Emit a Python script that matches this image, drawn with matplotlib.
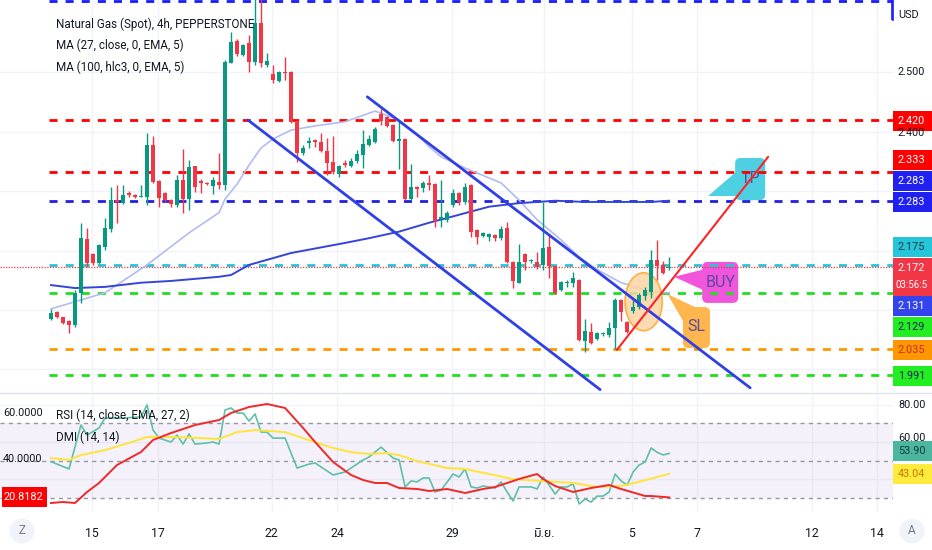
import matplotlib.pyplot as plt
import matplotlib.patches as mpatches
import numpy as np

# ---- data (4h candles, Natural Gas Spot) ----
opens = [2.085, 2.097, 2.088, 2.082, 2.075, 2.129, 2.220, 2.194, 2.179, 2.206,
         2.237, 2.285, 2.280, 2.297, 2.294, 2.291, 2.290, 2.378, 2.317, 2.297,
         2.285, 2.277, 2.319, 2.287, 2.343, 2.317, 2.314, 2.309, 2.316, 2.311,
         2.516, 2.553, 2.529, 2.550, 2.518, 2.583, 2.513, 2.497, 2.486, 2.501,
         2.501, 2.418, 2.364, 2.381, 2.386, 2.383, 2.368, 2.349, 2.329, 2.348,
         2.343, 2.351, 2.361, 2.378, 2.383, 2.430, 2.425, 2.412, 2.385, 2.388,
         2.287, 2.307, 2.306, 2.314, 2.312, 2.253, 2.252, 2.277, 2.297, 2.282,
         2.311, 2.235, 2.225, 2.223, 2.227, 2.221, 2.238, 2.181, 2.146, 2.194,
         2.182, 2.181, 2.176, 2.206, 2.174, 2.134, 2.146, 2.146, 2.151, 2.048,
         2.063, 2.051, 2.060, 2.058, 2.070, 2.117, 2.080, 2.098, 2.105, 2.124,
         2.131, 2.184, 2.176, 2.171]
highs = [2.102, 2.098, 2.089, 2.083, 2.134, 2.247, 2.238, 2.196, 2.212, 2.255,
         2.307, 2.311, 2.311, 2.301, 2.296, 2.311, 2.398, 2.393, 2.319, 2.299,
         2.287, 2.328, 2.371, 2.353, 2.343, 2.321, 2.316, 2.324, 2.365, 2.521,
         2.568, 2.556, 2.548, 2.563, 2.625, 2.625, 2.533, 2.513, 2.502, 2.526,
         2.503, 2.420, 2.378, 2.391, 2.388, 2.398, 2.390, 2.393, 2.344, 2.353,
         2.356, 2.370, 2.403, 2.395, 2.408, 2.439, 2.427, 2.413, 2.420, 2.390,
         2.346, 2.308, 2.317, 2.328, 2.314, 2.319, 2.267, 2.304, 2.299, 2.314,
         2.312, 2.236, 2.232, 2.230, 2.228, 2.242, 2.248, 2.182, 2.211, 2.196,
         2.186, 2.198, 2.282, 2.226, 2.174, 2.149, 2.151, 2.164, 2.153, 2.085,
         2.078, 2.063, 2.063, 2.080, 2.120, 2.119, 2.082, 2.120, 2.129, 2.139,
         2.201, 2.218, 2.183, 2.189]
lows = [2.083, 2.087, 2.076, 2.061, 2.072, 2.112, 2.172, 2.176, 2.177, 2.201,
        2.232, 2.247, 2.279, 2.290, 2.289, 2.290, 2.277, 2.314, 2.274, 2.282,
        2.274, 2.274, 2.264, 2.269, 2.299, 2.297, 2.310, 2.296, 2.304, 2.302,
        2.516, 2.528, 2.527, 2.501, 2.513, 2.509, 2.509, 2.482, 2.484, 2.487,
        2.415, 2.349, 2.361, 2.373, 2.375, 2.366, 2.328, 2.329, 2.324, 2.341,
        2.341, 2.348, 2.339, 2.376, 2.381, 2.412, 2.408, 2.383, 2.338, 2.285,
        2.286, 2.290, 2.299, 2.302, 2.240, 2.240, 2.248, 2.274, 2.277, 2.279,
        2.223, 2.211, 2.223, 2.216, 2.216, 2.218, 2.179, 2.137, 2.145, 2.168,
        2.179, 2.169, 2.168, 2.154, 2.127, 2.132, 2.139, 2.139, 2.048, 2.030,
        2.043, 2.050, 2.056, 2.055, 2.034, 2.082, 2.061, 2.095, 2.102, 2.117,
        2.120, 2.151, 2.161, 2.168]
closes = [2.095, 2.088, 2.078, 2.075, 2.129, 2.221, 2.179, 2.179, 2.210, 2.238,
          2.285, 2.282, 2.294, 2.294, 2.290, 2.292, 2.378, 2.316, 2.289, 2.285,
          2.279, 2.319, 2.287, 2.341, 2.307, 2.314, 2.312, 2.319, 2.311, 2.518,
          2.551, 2.531, 2.546, 2.518, 2.583, 2.516, 2.519, 2.487, 2.501, 2.499,
          2.417, 2.364, 2.373, 2.385, 2.383, 2.368, 2.348, 2.333, 2.343, 2.344,
          2.351, 2.363, 2.380, 2.388, 2.405, 2.418, 2.410, 2.385, 2.388, 2.287,
          2.307, 2.304, 2.314, 2.311, 2.250, 2.257, 2.264, 2.297, 2.282, 2.307,
          2.232, 2.223, 2.230, 2.228, 2.221, 2.237, 2.181, 2.149, 2.181, 2.181,
          2.183, 2.173, 2.205, 2.174, 2.129, 2.147, 2.148, 2.154, 2.050, 2.065,
          2.045, 2.061, 2.061, 2.070, 2.117, 2.097, 2.063, 2.105, 2.126, 2.134,
          2.184, 2.174, 2.163, 2.172]

# moving averages (bar index, value)
ma27_idx = [0, 9, 16, 23, 28, 29, 31, 33, 35, 37, 40, 44, 49, 54, 58, 61, 63, 65,
            69, 75, 78, 81, 85, 88, 91, 95, 98, 100, 103]
ma27 = [2.102, 2.129, 2.176, 2.230, 2.264, 2.287, 2.312, 2.344, 2.373, 2.388,
        2.403, 2.410, 2.417, 2.435, 2.420, 2.395, 2.375, 2.358, 2.339, 2.314,
        2.285, 2.252, 2.218, 2.189, 2.168, 2.146, 2.137, 2.131, 2.129]
ma100_idx = [0, 4, 9, 15, 20, 28, 30, 33, 40, 49, 53, 58, 63, 66, 73, 78, 84,
             89, 95, 100, 103]
ma100 = [2.142, 2.137, 2.139, 2.146, 2.149, 2.156, 2.159, 2.176, 2.196, 2.213,
         2.221, 2.232, 2.247, 2.255, 2.274, 2.280, 2.284, 2.282, 2.282, 2.282, 2.284]

# RSI panel
rsi_idx = [0, 3, 5, 6, 8, 9, 12, 15, 16, 17, 18, 20, 21, 22, 23, 24, 26, 27, 28,
           29, 30, 31, 32, 33, 34, 35, 36, 37, 39, 41, 43, 44, 47, 49, 50, 52,
           53, 55, 57, 58, 59, 60, 61, 62, 63, 64, 65, 67, 68, 69, 70, 71, 72,
           74, 75, 76, 77, 78, 80, 81, 82, 83, 84, 85, 86, 87, 88, 89, 90, 91,
           92, 93, 94, 95, 96, 97, 98, 99, 100, 101, 102, 103]
rsi = [49.5, 45.6, 69.1, 63.7, 67.5, 72.8, 72.8, 73.4, 79.8, 66.4, 62.1, 60.0,
       63.7, 58.9, 64.3, 58.9, 59.5, 60.0, 58.9, 77.1, 78.2, 75.5, 75.5, 71.2,
       75.0, 65.3, 65.3, 62.1, 62.1, 46.1, 48.2, 48.8, 42.4, 44.0, 46.1, 50.4,
       52.0, 57.3, 51.4, 50.4, 36.0, 39.2, 38.7, 40.8, 40.8, 33.3, 34.3, 42.9,
       41.3, 45.6, 36.0, 35.4, 36.5, 35.4, 38.7, 33.3, 28.5, 36.0, 36.0, 34.9,
       41.3, 37.0, 32.2, 36.0, 36.0, 37.6, 26.9, 29.5, 27.9, 31.1, 31.1, 33.3,
       42.9, 39.2, 37.0, 44.0, 47.7, 49.3, 56.8, 54.5, 53.1, 53.9]
rsi_ma_idx = [0, 3, 5, 9, 13, 16, 20, 25, 28, 31, 34, 39, 43, 47, 50, 53, 56, 58,
              61, 66, 69, 73, 77, 82, 87, 91, 95, 98, 101, 103]
rsi_ma = [51.4, 50.4, 53.0, 55.7, 59.5, 62.7, 62.7, 62.1, 61.6, 65.3, 66.4, 65.3,
          61.0, 56.8, 54.6, 53.6, 54.1, 53.0, 49.8, 46.1, 45.6, 42.9, 40.2, 39.1,
          38.1, 36.0, 36.5, 38.7, 41.3, 43.04]
dmi_idx = [0, 2, 4, 6, 8, 11, 15, 17, 20, 24, 28, 30, 33, 36, 39, 42, 44, 47, 50,
           52, 54, 56, 58, 61, 63, 66, 69, 72, 74, 78, 81, 82, 84, 87, 90, 93, 95,
           99, 100, 103]
dmi = [18.0, 18.5, 18.0, 23.5, 28.0, 37.0, 43.5, 49.5, 53.0, 57.0, 59.5, 63.0,
       66.0, 67.5, 65.5, 55.5, 48.5, 38.5, 32.0, 29.5, 28.0, 28.0, 25.5, 25.0,
       24.0, 25.0, 23.0, 25.0, 26.0, 30.0, 32.5, 30.0, 26.5, 23.5, 25.5, 27.0,
       25.0, 21.5, 21.5, 20.8]

# drawn levels
level_prices = [2.620, 2.420, 2.333, 2.283, 2.175, 2.129, 2.035, 1.991]
level_colors = ['#1a1aff', '#ff0000', '#ff0000', '#2020e0', '#26c6da', '#22dd22',
                '#ff9800', '#22dd22']
last_price = 2.172

# trend lines and callouts (bar index, price)
channel_upper = [(52.7, 2.459), (116.5, 1.969)]
channel_lower = [(32.8, 2.420), (91.5, 1.966)]
trend_red = [(94.3, 2.033), (119.5, 2.358)]

tick_pos = [6.8, 17.8, 36.8, 47.7, 66.8, 82.2, 96.8, 107.7, 126.8, 137.7]
tick_labels = ['15', '17', '22', '24', '29', 'มิ.ย.', '5', '7', '12', '14']

W, H = 932, 550
plt.rcParams['font.family'] = ['Roboto', 'DejaVu Sans']
fig = plt.figure(figsize=(W / 100, H / 100), dpi=100)
fig.patch.set_facecolor('white')

UP, DOWN = '#089981', '#f23645'
GRID = '#f0f3fa'
TXT = '#131722'

ax = fig.add_axes([0, 1 - 392 / H, 893 / W, 392 / H])
ax2 = fig.add_axes([0, 1 - 512 / H, 893 / W, 119 / H], sharex=ax)
ax3 = ax2.twinx()

ax.set_xlim(-8.5, 140.3)
ax.set_ylim(1.962, 2.622)
ax2.set_ylim(22.6, 86.2)
ax3.set_ylim(13.5, 73.0)

for a in (ax, ax2, ax3):
    for s in a.spines.values():
        s.set_visible(False)
    a.tick_params(length=0, labelleft=False, labelright=False, labelbottom=False)
    a.set_yticks([])

# grid
ax.set_xticks(tick_pos)
for p in [2.0, 2.1, 2.2, 2.3, 2.4, 2.5]:
    ax.axhline(p, color=GRID, lw=1, zorder=0)
for t in tick_pos:
    ax.axvline(t, color=GRID, lw=1, zorder=0)
    ax2.axvline(t, color=GRID, lw=1, zorder=0)
for v in [80, 60, 40]:
    ax2.axhline(v, color=GRID, lw=1, zorder=0)

# levels
for p, c in zip(level_prices, level_colors):
    ax.hlines(p, -0.4, 140.3, color=c, lw=2, linestyles=(0, (2.9, 2.9)), zorder=2)
ax.axhline(last_price, color=DOWN, lw=0.9, ls=(0, (1, 1.2)), zorder=2)
ax.vlines(140.15, 2.588, 2.622, color='#1a1aff', lw=1.2, zorder=2)

# moving averages
ax.plot(ma27_idx, ma27, color='#b3bbf3', lw=1.2, zorder=3)
ax.plot(ma100_idx, ma100, color='#3545d8', lw=1.4, zorder=3)

# callouts (under level lines)
asp = 0.0101
def callout(x0, x1, y0, y1, tip, base, color, label, tx, ty):
    box = mpatches.FancyBboxPatch((x0, y0), x1 - x0, y1 - y0,
                                  boxstyle='round,pad=0,rounding_size=0.9',
                                  mutation_aspect=asp, fc=color, ec='none', zorder=1.5)
    ax.add_patch(box)
    ax.add_patch(mpatches.Polygon([tip, base[0], base[1]], closed=True,
                                  fc=color, ec='none', zorder=1.5))
    ax.text(tx, ty, label, color='#5b4a9e', fontsize=11.5, ha='center', va='center',
            zorder=1.6)

callout(108.5, 114.5, 2.112, 2.181, (103.8, 2.156), [(108.6, 2.168), (108.6, 2.134)],
        '#f055dc', 'BUY', 111.5, 2.146)
callout(105.3, 109.8, 2.036, 2.105, (102.7, 2.127), [(105.4, 2.080), (107.5, 2.104)],
        '#ffb74d', 'SL', 107.6, 2.072)
callout(114.0, 119.0, 2.285, 2.356, (109.5, 2.292), [(114.2, 2.333), (114.2, 2.292)],
        '#4dd0e1', 'TP', 116.5, 2.322)

# ellipse around entry
ell = mpatches.Ellipse((98.75, 2.114), 6.2, 0.0976, fc='#fdd5a5', ec='#ffa726',
                       lw=1.2, alpha=0.85, zorder=3.5)
ax.add_patch(ell)

# candles
idx = np.arange(len(opens))
o = np.array(opens)
c = np.array(closes)
cols = [UP if cc >= oo else DOWN for oo, cc in zip(o, c)]
ax.vlines(idx, lows, highs, color=cols, lw=1, zorder=4)
body = np.maximum(np.abs(c - o), 0.0016)
ax.bar(idx, body, bottom=np.minimum(o, c), width=0.66, color=cols, zorder=4.1)

# trend lines
for seg, col, lw in [(channel_upper, '#2e40e6', 2), (channel_lower, '#2e40e6', 2),
                     (trend_red, '#ff2424', 1.5)]:
    xs, ys = zip(*seg)
    ax.plot(xs, ys, color=col, lw=lw, zorder=5, solid_capstyle='round')

# RSI panel
ax2.axhspan(30, 70, color='#7e57c2', alpha=0.08, lw=0, zorder=0.5)
for v in [70, 50, 30]:
    ax2.axhline(v, color='#9598a1', lw=1, ls=(0, (3, 3)), zorder=1)
ax2.plot(rsi_idx, rsi, color='#5fbfa8', lw=1.2, zorder=3)
ax2.plot(rsi_ma_idx, rsi_ma, color='#ffe43a', lw=1.4, zorder=3)
ax3.plot(dmi_idx, dmi, color='#f02828', lw=1.4, zorder=3)

# x tick labels
ax2.set_xticks(tick_pos)
ax2.tick_params(labelbottom=True, pad=11, labelsize=8.8, labelcolor=TXT)
ax2.set_xticklabels(tick_labels)
for lab in ax2.get_xticklabels():
    lab.set_family(['Roboto', 'Noto Sans Thai', 'DejaVu Sans'])

# panel separator
fig.add_artist(plt.Line2D([0, 1], [1 - 392.5 / H] * 2, color='#e0e3eb', lw=1))

# legends
fs = 8.4
for k, s in enumerate(['Natural Gas (Spot), 4h, PEPPERSTONE',
                       'MA (27, close, 0, EMA, 5)', 'MA (100, hlc3, 0, EMA, 5)']):
    fig.text(56 / W, 1 - (24 + 21.5 * k) / H, s, fontsize=fs, color=TXT, va='center')
for k, s in enumerate(['RSI (14, close, EMA, 27, 2)', 'DMI (14, 14)']):
    fig.text(56 / W, 1 - (415 + 22 * k) / H, s, fontsize=fs, color=TXT, va='center')

# right price scale
LFS = 7.8
def rlabel(py, s, fc=None, tc=TXT, h=20):
    if fc:
        fig.add_artist(mpatches.Rectangle((893 / W, 1 - (py + h / 2) / H), 40 / W, h / H,
                                          transform=fig.transFigure, fc=fc, ec='none',
                                          zorder=5))
    fig.text(898 / W, 1 - py / H, s, fontsize=LFS, color=tc, va='center', ha='left',
             zorder=6)

rlabel(15, 'USD')
rlabel(72, '2.500')
rlabel(133, '2.400')
rlabel(121, '2.420', '#ff0000', 'white')
rlabel(160, '2.333', '#ff0000', 'white')
rlabel(181, '2.283', '#2020f0', 'white')
rlabel(202, '2.283', '#2020f0', 'white')
rlabel(247, '2.175', '#26c6da', '#0f3d3e')
fig.add_artist(mpatches.Rectangle((893 / W, 1 - 296 / H), 40 / W, 38 / H,
                                  transform=fig.transFigure, fc=DOWN, ec='none', zorder=5))
fig.text(898 / W, 1 - 268 / H, '2.172', fontsize=LFS, color='white', va='center', zorder=6)
fig.text(896 / W, 1 - 285 / H, '03:56:5', fontsize=7.0, color='white', va='center', zorder=6)
rlabel(306, '2.131', '#3344ee', 'white')
rlabel(327, '2.129', '#22ee22', '#17245c')
rlabel(350, '2.035', '#ff9800', '#c62828')
rlabel(376, '1.991', '#22ee22', '#17245c')
fig.add_artist(plt.Line2D([893 / W] * 2, [1, 1 - 20 / H], color='#1a1aff', lw=1.2))

# RSI right scale
rlabel(405, '80.00')
rlabel(438, '60.00')
rlabel(451, '53.90', '#4db6a0', '#0f3d3e')
rlabel(474, '43.04', '#ffeb3b', '#c77800')

# DMI left scale
fig.text(3 / W, 1 - 413 / H, '60.0000', fontsize=LFS, color=TXT, va='center')
fig.text(3 / W, 1 - 459 / H, '40.0000', fontsize=LFS, color=TXT, va='center')
fig.add_artist(mpatches.Rectangle((2 / W, 1 - 507 / H), 45 / W, 20 / H,
                                  transform=fig.transFigure, fc='#ff0000', ec='none', zorder=5))
fig.text(4 / W, 1 - 497 / H, '20.8182', fontsize=LFS, color='white', va='center', zorder=6)

# corner buttons
for x, s in [(22, 'Z'), (912, 'A')]:
    fig.text(x / W, 1 - 531 / H, s, fontsize=8.5, color='#787b86', ha='center', va='center',
             bbox=dict(boxstyle='circle,pad=0.5', fc='#f0f3fa', ec='none'))

fig.savefig('out.png', dpi=100)
